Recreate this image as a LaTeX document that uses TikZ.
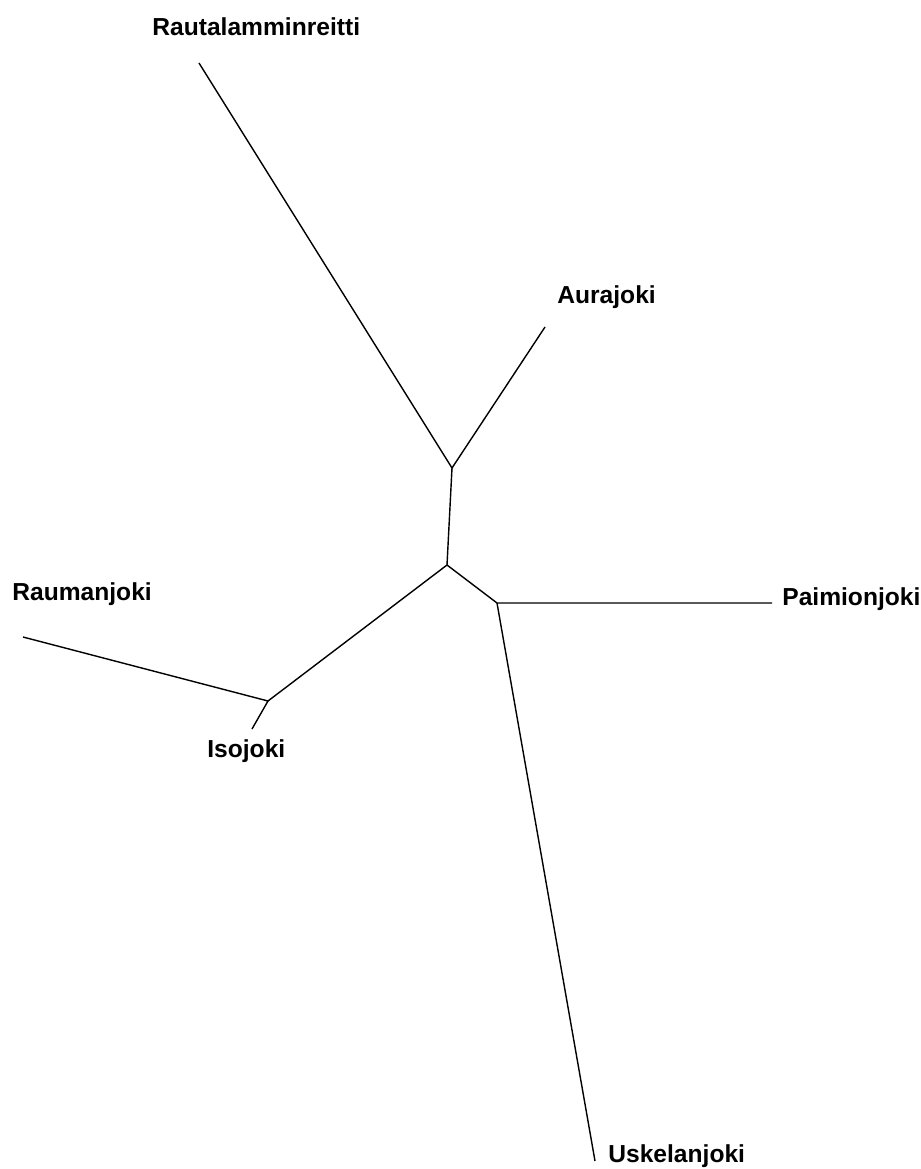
\documentclass[tikz,border=0pt]{standalone}
\usepackage{fontspec}
\setmainfont{Liberation Sans}
\usepackage{tikz}
\tikzset{
  branch/.style={line width=0.8pt,black},
  taxon/.style={anchor=base west,inner sep=0pt,font=\fontsize{14}{16}\selectfont\bfseries}
}

\begin{document}
\begin{tikzpicture}[x=0.02cm,y=-0.02cm]
                \useasboundingbox (0,0) rectangle (920,1169);
                % inner points of the tree
                \coordinate (upper) at (452,468);
                \coordinate (centre) at (447,565);
                \coordinate (right) at (497,603);
                \coordinate (iso) at (268,701);
                % leaf ends
                \coordinate (rautaend) at (199,63);
                \coordinate (auraend) at (545,327);
                \coordinate (raumaend) at (23,637);
                \coordinate (isoend) at (252,729);
                \coordinate (paimioend) at (772,603);
                \coordinate (uskelaend) at (595,1161);
                % branches
                \draw[branch] (rautaend)--(upper)--(auraend);
                \draw[branch] (upper)--(centre);
                \draw[branch] (centre)--(iso);
                \draw[branch] (centre)--(right);
                \draw[branch] (raumaend)--(iso)--(isoend);
                \draw[branch] (paimioend)--(right)--(uskelaend);
                % names
                \node[taxon] (rauta) at (152,36) {Rautalamminreitti};
                \node[taxon] (aura) at (557,303) {Aurajoki};
                \node[taxon] (rauma) at (12,600) {Raumanjoki};
                \node[taxon] (isojoki) at (207,757) {Isojoki};
                \node[taxon] (paimio) at (782,605) {Paimionjoki};
                \node[taxon] (uskela) at (608,1162) {Uskelanjoki};
            \end{tikzpicture}
\end{document}
